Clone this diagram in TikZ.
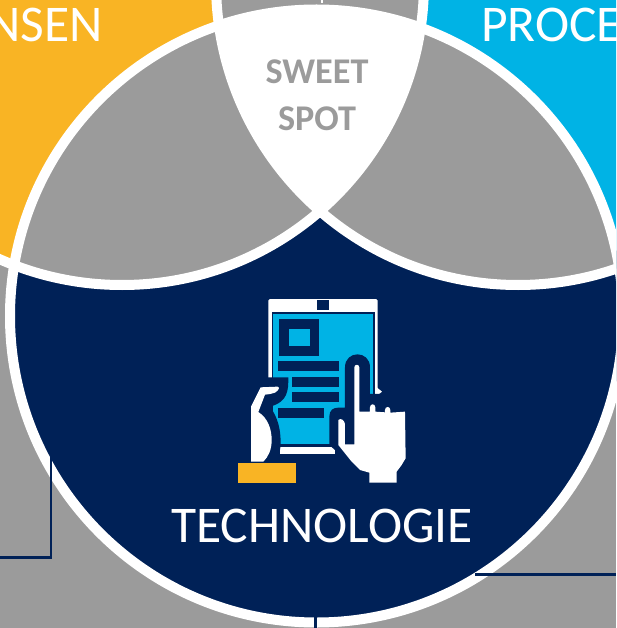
\documentclass[tikz,border=0pt]{standalone}
\usepackage{fontspec}
\setmainfont{Carlito}
\definecolor{navy}{HTML}{002157}
\definecolor{skyc}{HTML}{00B3E5}
\definecolor{yell}{HTML}{F9B424}
\definecolor{grayc}{HTML}{9B9B9B}
\tikzset{
  ringline/.style={draw=white,line width=10pt},
  conn/.style={draw=navy,line width=2.6pt},
  bigtext/.style={text=white,inner sep=0pt,anchor=base west,font=\fontsize{51.5}{51.5}\selectfont},
  sweet/.style={text=grayc,inner sep=0pt,anchor=base,font=\fontsize{36.2}{36.2}\selectfont\bfseries},
}
\newcommand{\circL}{(122,-17) circle (302)}
\newcommand{\circR}{(518,-17) circle (302)}
\newcommand{\circB}{(316.5,316) circle (306.5)}
\begin{document}
\begin{tikzpicture}[x=1pt,y=-1pt]
\useasboundingbox (0,0) rectangle (616,628);
\clip (0,0) rectangle (616,628);
\fill[grayc] (0,0) rectangle (616,628);
\fill[yell] \circL;
\fill[skyc] \circR;
\fill[navy] \circB;
\begin{scope}\clip \circL; \fill[grayc] \circR; \fill[grayc] \circB;\end{scope}
\begin{scope}\clip \circR; \fill[grayc] \circB;\end{scope}
\begin{scope}\clip \circL; \clip \circR; \fill[white] \circB;\end{scope}
\draw[ringline] \circL;
\draw[ringline] \circR;
\draw[ringline] \circB;
% connectors
\coordinate (la) at (51,455); \coordinate (lb) at (51,557.5); \coordinate (lc) at (0,557.5);
\coordinate (ra) at (475,574.5); \coordinate (rb) at (616,574.5);
\coordinate (ba) at (315.5,617); \coordinate (bb) at (315.5,628);
\coordinate (ta) at (322,0); \coordinate (tb) at (322,3.5);
\draw[conn,miter limit=10] (la) -- (lb) -- (lc);
\draw[conn] (ra) -- (rb);
\draw[conn] (ba) -- (bb);
\draw[white,line width=1.5pt] (ta) -- (tb);
% texts
\node[bigtext] (mensen) at (-13,42) {NSEN};
\node[bigtext] (proc) at (481,42) {PROCE};
\node[bigtext] (tech) at (171,542) {TECHNOLOGIE};
\node[sweet] (sw) at (317,84) {SWEET};
\node[sweet] (sp) at (317,131) {SPOT};
% icon
\begin{scope}[shift={(220,290)},x=0.3333pt,y=-0.3333pt]
 \fill[white,rounded corners=1.5pt] (145,27) rectangle (473,305);
 \fill[white] (462,285) -- (486,305) -- (470,318) -- (462,318) -- cycle;
 \fill[navy] (292,30) rectangle (328,60);
 \fill[navy] (155,66) rectangle (464,470);
 \fill[skyc] (159,71) rectangle (460,462);
 \fill[white] (180,470) rectangle (345,491);
 \fill[navy] (177,87) rectangle (298,197);
 \fill[skyc] (206,117) rectangle (270,169);
 \fill[navy] (175,214) rectangle (358,244);
 \fill[navy] (216,261) rectangle (358,291);
 \fill[navy] (216,307) rectangle (358,337);
 \fill[navy] (175,353) rectangle (312,383);
 % left hand outline and hand
 \fill[navy] (80,262) -- (205,262) .. controls (205,300) and (205,335) .. (150,350)
   .. controls (175,385) and (182,420) .. (182,460) .. controls (182,490) and (170,505) .. (150,520) -- (80,520) -- cycle;
 \fill[white] (93,350) -- (122,292) -- (172,290) .. controls (180,290) and (178,300) .. (165,308)
   .. controls (155,312) and (145,313) .. (135,314) -- (115,366)
   .. controls (145,385) and (155,420) .. (155,450) .. controls (155,480) and (145,500) .. (130,515) -- (93,515) -- cycle;
 \fill[yell] (53,520) rectangle (227,578);
 % right hand outline
 \fill[navy] (375,232) .. controls (375,180) and (450,180) .. (450,232) -- (450,312) -- (490,312) -- (560,360) -- (565,520) -- (535,585) -- (440,585) -- (395,530) -- (345,480) -- (328,465) -- (328,380) .. controls (328,360) and (340,353) .. (355,353) -- (375,353) -- cycle;
 \fill[white] (403,232) .. controls (403,222) and (418,222) .. (418,232) -- (418,365)
   -- (450,365) -- (450,352) .. controls (450,340) and (466,340) .. (466,352) -- (466,365) -- (495,367)
   -- (495,360) .. controls (495,348) and (511,348) .. (511,360) -- (511,368) -- (555,365) -- (557,505)
   -- (545,525) -- (530,545) -- (530,578) -- (448,578) -- (448,548) -- (420,540) -- (395,515)
   -- (355,465) -- (355,390) .. controls (362,384) and (372,388) .. (375,402) -- (375,463) -- (403,463) -- cycle;
\end{scope}
\end{tikzpicture}
\end{document}
